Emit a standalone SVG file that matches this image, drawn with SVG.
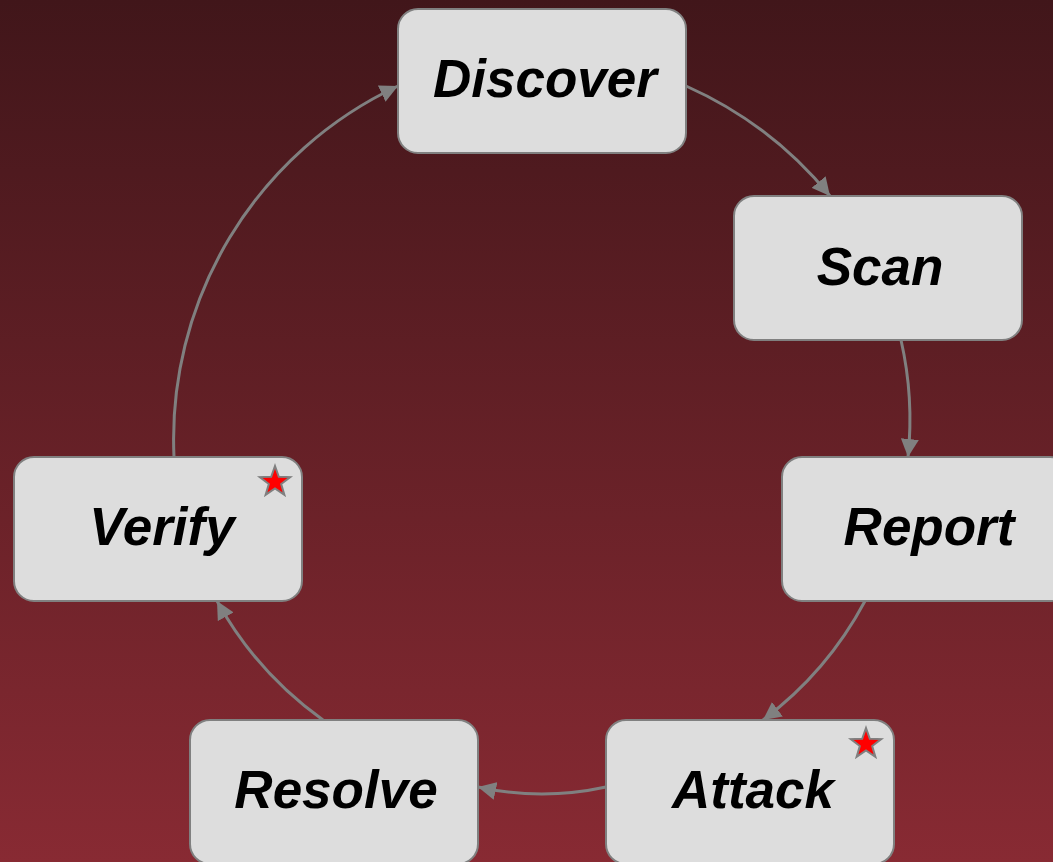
<svg xmlns="http://www.w3.org/2000/svg" width="1053" height="862" viewBox="0 0 1053 862">
<defs>
<linearGradient id="bg" x1="0" y1="0" x2="0" y2="1">
<stop offset="0" stop-color="#41161a"/>
<stop offset="1" stop-color="#882a33"/>
</linearGradient>
<marker id="arr" markerUnits="userSpaceOnUse" markerWidth="20" markerHeight="18" refX="18" refY="9" orient="auto">
<path d="M0,0 L18,9 L0,18 Z" fill="#808080"/>
</marker>
<polygon id="star" points="0,-16 3.82,-5.26 15.22,-4.94 6.18,2.01 9.4,12.94 0,6.5 -9.4,12.94 -6.18,2.01 -15.22,-4.94 -3.82,-5.26"/>
</defs>
<style>
.box{fill:#dddddd;stroke:#808080;stroke-width:2}
.lbl{font-family:"Liberation Sans",Arial,sans-serif;font-weight:bold;font-style:italic;font-size:53px;fill:#000;text-anchor:middle}
.edge{fill:none;stroke:#808080;stroke-width:3;marker-end:url(#arr)}
.star{fill:#ff0000;stroke:#808080;stroke-width:2}
</style>
<rect width="1053" height="862" fill="url(#bg)"/>
<g id="connectors">
<path class="edge" d="M686,86 A390,390 0 0 1 830,196"/>
<path class="edge" d="M901,340 A360,360 0 0 1 908,457"/>
<path class="edge" d="M865,601 A360,360 0 0 1 763,720"/>
<path class="edge" d="M606,787 A300,300 0 0 1 478,787"/>
<path class="edge" d="M323,720 A360,360 0 0 1 217,601"/>
<path class="edge" d="M174,457 A390,390 0 0 1 398,86"/>
</g>
<g id="discover">
<rect class="box" x="398" y="9" width="288" height="144" rx="20"/>
<text class="lbl" x="545" y="97">Discover</text>
</g>
<g id="scan">
<rect class="box" x="734" y="196" width="288" height="144" rx="20"/>
<text class="lbl" x="880" y="285">Scan</text>
</g>
<g id="report">
<rect class="box" x="782" y="457" width="288" height="144" rx="20"/>
<text class="lbl" x="929" y="545">Report</text>
</g>
<g id="attack">
<rect class="box" x="606" y="720" width="288" height="144" rx="20"/>
<text class="lbl" x="753" y="808">Attack</text>
<use href="#star" class="star" x="866" y="744"/>
</g>
<g id="resolve">
<rect class="box" x="190" y="720" width="288" height="144" rx="20"/>
<text class="lbl" x="336" y="808">Resolve</text>
</g>
<g id="verify">
<rect class="box" x="14" y="457" width="288" height="144" rx="20"/>
<text class="lbl" x="162" y="545">Verify</text>
<use href="#star" class="star" x="275" y="482"/>
</g>
</svg>
